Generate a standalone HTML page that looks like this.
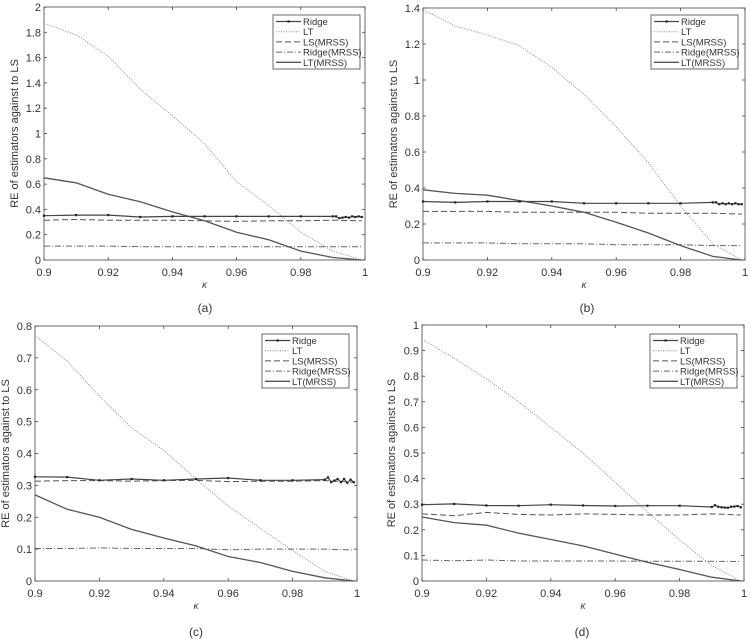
<!DOCTYPE html>
<html><head><meta charset="utf-8"><style>
html,body{margin:0;padding:0;background:#fff;}
svg{display:block;font-family:"Liberation Sans",sans-serif;}
</style></head><body>
<svg id="fig" width="750" height="640" viewBox="0 0 750 640"></svg>
<script>
const xMain = [0.9,0.91,0.92,0.93,0.94,0.95,0.96,0.97,0.98,0.99,0.999];
const xRidgeTail = [0.991,0.992,0.993,0.994,0.995,0.996,0.997,0.998,0.999];
const xTicks = [0.9,0.92,0.94,0.96,0.98,1];
const xTickLabels = ["0.9","0.92","0.94","0.96","0.98","1"];

// Panel (a)
const aLT = [1.87,1.78,1.61,1.35,1.14,0.92,0.62,0.43,0.22,0.07,0.0];
const aLTM = [0.65,0.61,0.52,0.46,0.38,0.31,0.22,0.16,0.07,0.02,0.0];
const aRidge = [0.35,0.355,0.355,0.34,0.345,0.345,0.345,0.345,0.345,0.345];
const aRidgeTail = [0.345,0.33,0.335,0.34,0.335,0.345,0.34,0.345,0.34];
const aLSM = [0.315,0.32,0.315,0.315,0.315,0.31,0.305,0.31,0.31,0.315,0.31];
const aRM = [0.11,0.11,0.11,0.105,0.105,0.105,0.105,0.105,0.105,0.105,0.105];
const aYTicks = [0,0.2,0.4,0.6,0.8,1,1.2,1.4,1.6,1.8,2];

// Panel (b)
const bLT = [1.39,1.30,1.25,1.19,1.07,0.92,0.74,0.54,0.30,0.09,0.0];
const bLTM = [0.39,0.37,0.36,0.33,0.30,0.265,0.21,0.15,0.08,0.02,0.0];
const bRidge = [0.325,0.32,0.325,0.325,0.325,0.315,0.315,0.315,0.315,0.32];
const bRidgeTail = [0.32,0.31,0.315,0.31,0.315,0.31,0.315,0.31,0.31];
const bLSM = [0.27,0.27,0.27,0.265,0.265,0.265,0.265,0.26,0.26,0.26,0.255];
const bRM = [0.095,0.095,0.095,0.09,0.09,0.09,0.085,0.085,0.085,0.08,0.08];
const bYTicks = [0,0.2,0.4,0.6,0.8,1,1.2,1.4];

// Panel (c)
const cLT = [0.77,0.69,0.58,0.48,0.41,0.32,0.235,0.165,0.095,0.03,0.0];
const cLTM = [0.27,0.225,0.20,0.162,0.135,0.11,0.077,0.058,0.03,0.01,0.0];
const cRidge = [0.327,0.326,0.316,0.32,0.316,0.32,0.323,0.316,0.316,0.318];
const cRidgeTail = [0.325,0.31,0.315,0.32,0.31,0.32,0.308,0.318,0.31];
const cLSM = [0.313,0.315,0.315,0.313,0.315,0.316,0.312,0.313,0.313,0.315,0.31];
const cRM = [0.102,0.102,0.104,0.102,0.102,0.102,0.098,0.1,0.1,0.1,0.097];
const cYTicks = [0,0.1,0.2,0.3,0.4,0.5,0.6,0.7,0.8];

// Panel (d)
const dLT = [0.945,0.87,0.79,0.70,0.60,0.50,0.385,0.27,0.16,0.06,0.0];
const dLTM = [0.25,0.228,0.218,0.187,0.162,0.137,0.105,0.073,0.045,0.015,0.0];
const dRidge = [0.298,0.301,0.295,0.294,0.298,0.295,0.293,0.294,0.294,0.289];
const dRidgeTail = [0.296,0.29,0.288,0.287,0.286,0.29,0.291,0.293,0.288];
const dLSM = [0.262,0.255,0.268,0.26,0.258,0.262,0.26,0.258,0.258,0.262,0.258];
const dRM = [0.082,0.079,0.082,0.078,0.078,0.078,0.078,0.077,0.077,0.077,0.076];
const dYTicks = [0,0.1,0.2,0.3,0.4,0.5,0.6,0.7,0.8,0.9,1];

const NS = "http://www.w3.org/2000/svg";
const svg = document.getElementById("fig");
function mk(tag, attrs, parent){
  const e = document.createElementNS(NS, tag);
  for (const k in attrs) e.setAttribute(k, attrs[k]);
  (parent||svg).appendChild(e);
  return e;
}
const panels = [
  {id:"a",L:44,R:365,T:7,B:260,ymax:2,yt:aYTicks,LT:aLT,LTM:aLTM,Ridge:aRidge,RT:aRidgeTail,LSM:aLSM,RM:aRM,ytx:18,cap:[205,312],leg:[273,15]},
  {id:"b",L:423,R:745,T:8,B:260,ymax:1.4,yt:bYTicks,LT:bLT,LTM:bLTM,Ridge:bRidge,RT:bRidgeTail,LSM:bLSM,RM:bRM,ytx:397,cap:[587,312],leg:[651,15]},
  {id:"c",L:35,R:357,T:326,B:581,ymax:0.8,yt:cYTicks,LT:cLT,LTM:cLTM,Ridge:cRidge,RT:cRidgeTail,LSM:cLSM,RM:cRM,ytx:9,cap:[196,636],leg:[262,334]},
  {id:"d",L:422,R:744,T:325,B:581,ymax:1,yt:dYTicks,LT:dLT,LTM:dLTM,Ridge:dRidge,RT:dRidgeTail,LSM:dLSM,RM:dRM,ytx:395,cap:[582,636],leg:[650,334]}
];
const styles = {
  Ridge:{stroke:"#444","stroke-width":1.2},
  LT:{stroke:"#888","stroke-width":1,"stroke-dasharray":"1,1.5"},
  LSM:{stroke:"#555","stroke-width":1,"stroke-dasharray":"6,3"},
  RM:{stroke:"#666","stroke-width":1,"stroke-dasharray":"6,2,1,2"},
  LTM:{stroke:"#555","stroke-width":1.3}
};
panels.forEach(p=>{
  const g = mk("g",{});
  
  
  const sx = v => p.L + (v-0.9)/0.1*(p.R-p.L);
  const sy = v => p.B - v/p.ymax*(p.B-p.T);
  const box = mk("rect",{x:p.L,y:p.T,width:p.R-p.L,height:p.B-p.T,fill:"#fff",stroke:"#444","stroke-width":0.8},g);
  
  
  xTicks.forEach((t,i)=>{
    const x = sx(t);
    mk("line",{x1:x,y1:p.B,x2:x,y2:p.B-3,stroke:"#444","stroke-width":0.8},g);
    mk("line",{x1:x,y1:p.T,x2:x,y2:p.T+3,stroke:"#444","stroke-width":0.8},g);
    const tx = mk("text",{x:x,y:p.B+16,"text-anchor":"middle","font-size":11,fill:"#333"},g);
    tx.textContent = xTickLabels[i];
    
    
  });
  p.yt.forEach(t=>{
    const y = sy(t);
    mk("line",{x1:p.L,y1:y,x2:p.L+3,y2:y,stroke:"#444","stroke-width":0.8},g);
    mk("line",{x1:p.R,y1:y,x2:p.R-3,y2:y,stroke:"#444","stroke-width":0.8},g);
    const tx = mk("text",{x:p.L-3,y:y+4,"text-anchor":"end","font-size":11,fill:"#333"},g);
    tx.textContent = String(Math.round(t*10)/10);
    
    
  });
  const xl = mk("text",{x:(p.L+p.R)/2,y:p.B+28,"text-anchor":"middle","font-size":10,"font-style":"italic",fill:"#444"},g);
  xl.textContent = "κ";
  
  
  const yc = (p.T+p.B)/2;
  const yl = mk("text",{x:p.ytx,y:yc,"text-anchor":"middle","font-size":11,fill:"#333",transform:"rotate(-90 "+p.ytx+" "+yc+")"},g);
  yl.textContent = "RE of estimators against to LS";
  
  
  const cap = mk("text",{x:p.cap[0],y:p.cap[1],"text-anchor":"middle","font-size":12,fill:"#333"},g);
  cap.textContent = "("+p.id+")";
  
  
  function line(xs, ys, key){
    const d = xs.map((x,i)=>(i?"L":"M")+sx(x).toFixed(1)+","+sy(ys[i]).toFixed(1)).join("");
    const a = Object.assign({d:d,fill:"none"}, styles[key]);
    const e = mk("path",a,g);
    
    
  }
  line(xMain, p.LT, "LT");
  line(xMain, p.LSM, "LSM");
  line(xMain, p.RM, "RM");
  line(xMain, p.LTM, "LTM");
  const rx = xMain.slice(0,10).concat(xRidgeTail);
  const ry = p.Ridge.concat(p.RT);
  line(rx, ry, "Ridge");
  rx.forEach((x,i)=>{
    const m = mk("rect",{x:sx(x)-1.1,y:sy(ry[i])-1.1,width:2.2,height:2.2,fill:"#222"},g);
    
    
  });
  const lx = p.leg[0], ly = p.leg[1];
  const lg = mk("g",{},g);
  
  
  mk("rect",{x:lx,y:ly,width:87,height:54,fill:"#fff",stroke:"#444","stroke-width":0.8},lg);
  const names = [["Ridge","Ridge"],["LT","LT"],["LSM","LS(MRSS)"],["RM","Ridge(MRSS)"],["LTM","LT(MRSS)"]];
  names.forEach((n,i)=>{
    const yy = ly+6.5+i*10.2;
    mk("line",Object.assign({x1:lx+3,y1:yy,x2:lx+28,y2:yy},styles[n[0]]),lg);
    if(n[0]==="Ridge") mk("rect",{x:lx+14.5,y:yy-1.1,width:2.2,height:2.2,fill:"#222"},lg);
    const t = mk("text",{x:lx+30,y:yy+3.5,"font-size":9.5,fill:"#333"},lg);
    t.textContent = n[1];
    
    
  });
});
</script>
</body></html>
